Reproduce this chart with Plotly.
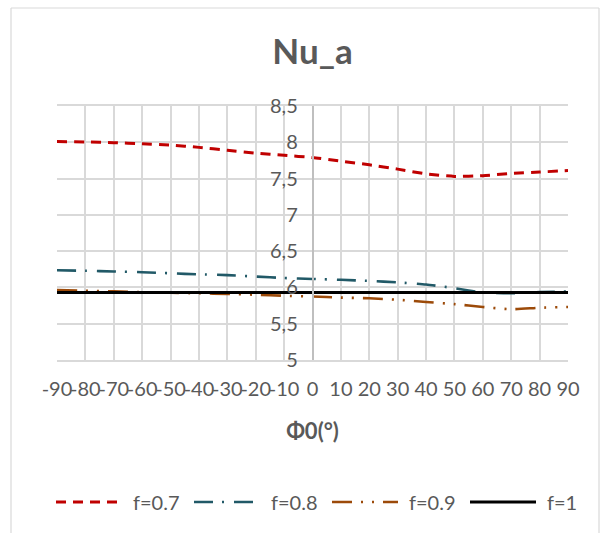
import plotly.graph_objects as go

phi0 = [-90, -80, -70, -60, -50, -40, -30, -20, -10, 0, 10, 20, 30, 40, 50, 60, 70, 80, 90]
nu_f07 = [8.01, 8.005, 7.995, 7.98, 7.96, 7.93, 7.89, 7.85, 7.82, 7.79, 7.74, 7.69, 7.63, 7.565, 7.53, 7.54, 7.57, 7.59, 7.61]
nu_f08 = [6.236, 6.23, 6.22, 6.21, 6.195, 6.18, 6.17, 6.15, 6.13, 6.117, 6.105, 6.09, 6.07, 6.04, 5.99, 5.93, 5.92, 5.935, 5.945]
nu_f09 = [5.965, 5.955, 5.945, 5.935, 5.926, 5.92, 5.91, 5.90, 5.885, 5.875, 5.86, 5.85, 5.83, 5.80, 5.77, 5.73, 5.70, 5.72, 5.73]
nu_f1 = [5.93] * 19
names = ["f=0.7", "f=0.8", "f=0.9", "f=1"]
colors = ["#C00000", "#215967", "#9C4A09", "#000000"]
dashes = ["10px,7px", "19px,9px,2px,10px", "20px,9px,2px,9px,2px,9px", "solid"]
widths = [3, 2.6, 2.6, 3]
yticks = [5, 5.5, 6, 6.5, 7, 7.5, 8, 8.5]
xticks = list(range(-90, 91, 10))

FONT = "Lato"
TXT = "#595959"
GRID = "#D9D9D9"

W, H = 609, 533
ML, MR, MT, MB = 57, 41, 106, 173
PW, PH = W - ML - MR, H - MT - MB


def px2paper_x(px):
    return (px - ML) / PW


def px2paper_y(py):
    return (H - MB - py) / PH


fig = go.Figure()
for ys, nm, c, d, w in zip([nu_f07, nu_f08, nu_f09, nu_f1], names, colors, dashes, widths):
    fig.add_trace(go.Scatter(x=phi0, y=ys, name=nm, mode="lines", showlegend=False,
                             line=dict(color=c, dash=d, width=w, shape="spline", smoothing=0.6)))

fig.update_layout(
    width=W, height=H,
    margin=dict(l=ML, r=MR, t=MT, b=MB),
    paper_bgcolor="white", plot_bgcolor="white",
    separators=", ",
    font=dict(family=FONT, size=20, color=TXT),
    title=dict(text="<b>Nu_a</b>", x=0.5, xref="paper", xanchor="center",
               y=1 - 52 / H, yanchor="middle", font=dict(family=FONT, size=35, color=TXT)),
    showlegend=False,
    xaxis=dict(range=[-90, 90], tickmode="array", tickvals=xticks, ticktext=[str(v) for v in xticks],
               tickangle=0, showgrid=True, gridcolor=GRID, gridwidth=1.5,
               zeroline=False, showline=True, linecolor=GRID, linewidth=1.5, mirror=True,
               ticks="", ticklabelstandoff=10,
               tickfont=dict(family=FONT, size=20, color=TXT),
               title=dict(text="<b>Φ0(°)</b>", standoff=25, font=dict(family=FONT, size=22, color=TXT))),
    yaxis=dict(range=[5, 8.5], tickmode="array", tickvals=yticks,
               showgrid=True, gridcolor=GRID, gridwidth=1.5,
               zeroline=False, anchor="free", position=0.5,
               showline=True, linecolor="#BFBFBF", linewidth=1.5,
               ticks="outside", ticklen=10, tickcolor="rgba(0,0,0,0)",
               tickfont=dict(family=FONT, size=20, color=TXT)),
)

# legend drawn as line samples + text (Excel-style long samples)
leg_y = px2paper_y(502)
for i, (nm, c, d, w) in enumerate(zip(names, colors, dashes, widths)):
    x0 = 56 + i * 138
    fig.add_shape(type="line", xref="paper", yref="paper",
                  x0=px2paper_x(x0), x1=px2paper_x(x0 + 66), y0=leg_y, y1=leg_y,
                  line=dict(color=c, dash=d, width=w))
    fig.add_annotation(xref="paper", yref="paper", x=px2paper_x(x0 + 75), y=leg_y,
                       text=nm, showarrow=False, xanchor="left", yanchor="middle",
                       font=dict(family=FONT, size=20, color=TXT))

# chart area border
bl, br, bt, bb = px2paper_x(11), px2paper_x(599), px2paper_y(8), px2paper_y(560)
for x0, y0, x1, y1 in [(bl, bt, br, bt), (bl, bt, bl, bb), (br, bt, br, bb)]:
    fig.add_shape(type="line", xref="paper", yref="paper", x0=x0, y0=y0, x1=x1, y1=y1,
                  line=dict(color="#D9D9D9", width=1.2), layer="below")

fig.write_html("out.html")
